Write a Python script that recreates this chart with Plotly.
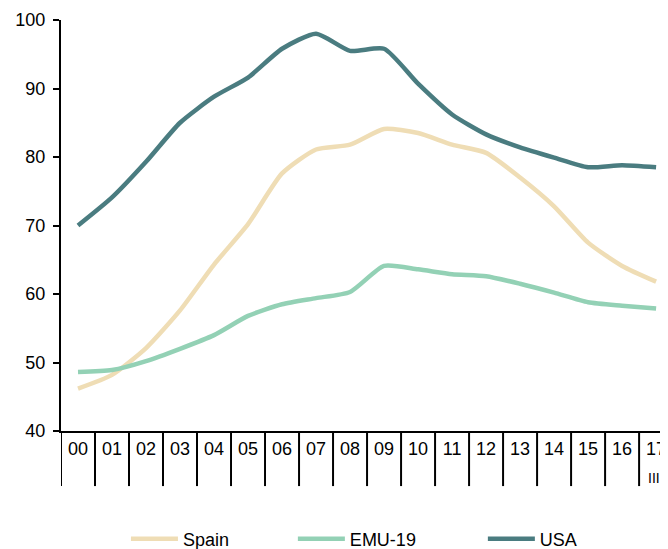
import plotly.graph_objects as go

categories = ["00","01","02","03","04","05","06","07","08","09","10","11","12","13","14","15","16","17"]
spain = [46.2, 48.2, 52.1, 57.6, 64.3, 70.2, 77.6, 81.1, 81.8, 84.1, 83.5, 81.8, 80.6, 77.0, 72.8, 67.5, 64.1, 61.8]
emu19 = [48.6, 48.9, 50.2, 52.0, 54.0, 56.8, 58.5, 59.4, 60.3, 64.1, 63.6, 62.9, 62.6, 61.5, 60.2, 58.8, 58.3, 57.9]
usa = [70.0, 74.1, 79.3, 85.0, 88.8, 91.6, 95.8, 98.0, 95.5, 95.8, 90.7, 86.2, 83.3, 81.4, 79.9, 78.5, 78.8, 78.5]
sub_label = "III"

# page has an 8px body margin: figure drawn 8px in from the top-left corner
W, H = 660, 541
xs = list(range(len(categories)))
fig = go.Figure()
series = [("Spain", spain, "#EFDDB5", "legend", 0.107),
          ("EMU-19", emu19, "#93D1B5", "legend2", 0.382),
          ("USA", usa, "#4A7C80", "legend3", 0.695)]
legends = {}
for name, vals, col, lg, lx in series:
    fig.add_trace(go.Scatter(x=xs, y=vals, name=name, mode="lines", legend=lg,
                             line=dict(color=col, width=4.5, shape="spline", smoothing=0.6)))
    legends[lg] = dict(orientation="h", x=lx, xanchor="left", y=(H - 531) / H, yref="container",
                       yanchor="middle", font=dict(size=18), bgcolor="rgba(0,0,0,0)",
                       itemwidth=47)

shapes = []
for k in range(len(categories)):
    shapes.append(dict(type="line", xref="x", yref="paper", x0=k - 0.5, x1=k - 0.5,
                       y0=0, y1=-0.134, line=dict(color="black", width=2)))

fig.update_layout(
    width=W, height=H,
    margin=dict(l=53, r=0, t=12, b=118),
    plot_bgcolor="white", paper_bgcolor="white",
    font=dict(family="Liberation Sans, Arial, sans-serif", size=18, color="black"),
    xaxis=dict(range=[-0.5, 17.35], tickmode="array", tickvals=xs, ticktext=categories,
               showgrid=False, zeroline=False, showline=True, linecolor="black", linewidth=2,
               ticks="", ticklabelstandoff=0, tickfont=dict(size=18), automargin=False),
    yaxis=dict(range=[40, 100], dtick=10, showgrid=False, zeroline=False, showline=True,
               linecolor="black", linewidth=2, ticks="outside", ticklen=6, tickwidth=2,
               tickcolor="black", tickfont=dict(size=18), automargin=False,
               ticklabelstandoff=4),
    shapes=shapes,
    showlegend=True,
    annotations=[dict(text=sub_label, x=16.94, xref="x", y=-0.1155, yref="paper",
                      showarrow=False, font=dict(size=14), yanchor="middle")],
    **legends,
)
fig.write_html("out.html")
